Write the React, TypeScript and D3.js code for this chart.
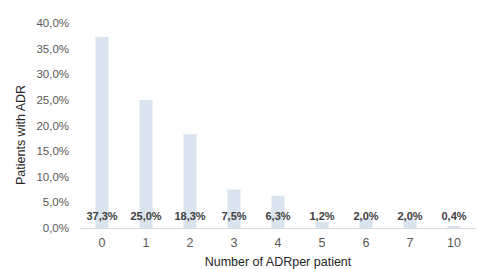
import React from "react";
import * as d3 from "d3";

const categories = ["0", "1", "2", "3", "4", "5", "6", "7", "10"];
const values = [37.3, 25.0, 18.3, 7.5, 6.3, 1.2, 2.0, 2.0, 0.4];
const yTicks = [0, 5, 10, 15, 20, 25, 30, 35, 40];

const W = 479;
const H = 269;
const fmt = (v: number) => v.toFixed(1).replace(".", ",") + "%";

export default function App() {
  const x = d3.scaleBand<string>().domain(categories).range([80, 476]).paddingInner(0.7).paddingOuter(0.35);
  const y = d3.scaleLinear().domain([0, 40]).range([228, 23]);
  const font = "Arial, 'Liberation Sans', sans-serif";
  return (
    <svg width={W} height={H} style={{ position: "absolute", left: 0, top: 0 }} fontFamily={font}>
      <rect width={W} height={H} fill="#fff" />
      {yTicks.map((t) => (
        <text key={t} x={69} y={y(t)} dy="0.35em" textAnchor="end" fontSize={11.5} fill="#595959">
          {fmt(t)}
        </text>
      ))}
      {categories.map((c, i) => (
        <rect key={c} x={x(c)} y={y(values[i])} width={x.bandwidth()} height={y(0) - y(values[i])} fill="#dae4ef" />
      ))}
      <line x1={80} x2={476} y1={y(0) + 0.5} y2={y(0) + 0.5} stroke="#d9d9d9" strokeWidth={1} />
      {categories.map((c, i) => (
        <text key={"l" + c} x={x(c)! + x.bandwidth() / 2} y={216} dy="0.35em" textAnchor="middle" fontSize={11} fontWeight="bold" fill="#404040">
          {fmt(values[i])}
        </text>
      ))}
      {categories.map((c) => (
        <text key={"t" + c} x={x(c)! + x.bandwidth() / 2} y={243} dy="0.35em" textAnchor="middle" fontSize={12.5} fill="#595959">
          {c}
        </text>
      ))}
      <text x={278} y={262} dy="0.35em" textAnchor="middle" fontSize={12.5} fill="#262626">
        Number of ADRper patient
      </text>
      <text transform={`translate(21,135) rotate(-90)`} dy="0.35em" textAnchor="middle" fontSize={12.5} fill="#262626">
        Patients with ADR
      </text>
    </svg>
  );
}
